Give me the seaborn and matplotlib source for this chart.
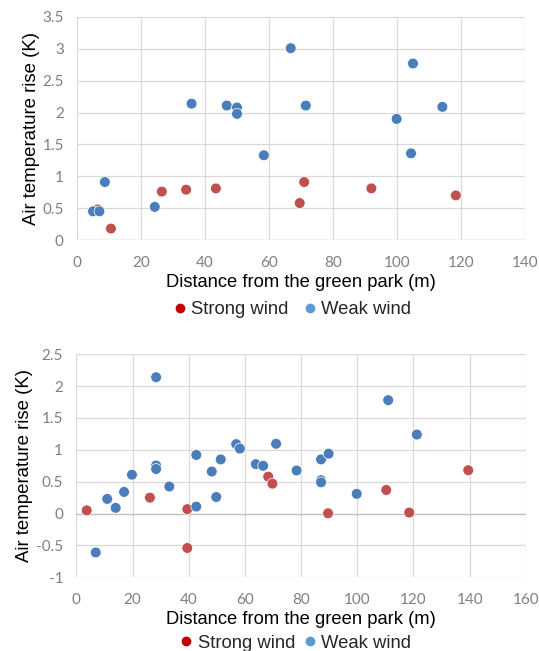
import numpy as np
import pandas as pd
import matplotlib
matplotlib.use("Agg")
import matplotlib.pyplot as plt
from matplotlib.lines import Line2D
import seaborn as sns

# ---- Data: top panel ----
top_strong_x = [6.5, 10.6, 26.5, 34.1, 43.4, 69.6, 71.0, 92.0, 118.4]
top_strong_y = [0.48, 0.18, 0.76, 0.79, 0.81, 0.58, 0.91, 0.81, 0.70]
top_weak_x = [5.0, 7.0, 8.7, 24.3, 35.8, 46.8, 50.0, 50.0, 58.4, 66.8, 71.5, 99.9, 105.0, 104.4, 114.2]
top_weak_y = [0.45, 0.45, 0.91, 0.52, 2.14, 2.11, 2.08, 1.98, 1.33, 3.01, 2.11, 1.90, 2.77, 1.36, 2.09]

# ---- Data: bottom panel ----
bot_strong_x = [3.7, 26.2, 39.5, 39.5, 68.3, 69.8, 89.6, 110.3, 118.5, 139.5]
bot_strong_y = [0.05, 0.25, 0.07, -0.54, 0.58, 0.47, 0.005, 0.37, 0.016, 0.68]
bot_weak_x = [6.9, 11.0, 14.0, 17.0, 19.8, 28.4, 28.4, 28.4, 33.1, 42.7, 42.7, 48.2, 49.8, 51.4,
              56.9, 58.2, 63.9, 66.5, 71.1, 78.4, 87.1, 89.8, 87.1, 87.1, 99.8, 111.0, 121.2]
bot_weak_y = [-0.61, 0.23, 0.09, 0.34, 0.61, 2.14, 0.755, 0.70, 0.425, 0.11, 0.92, 0.66, 0.26, 0.85,
              1.09, 1.02, 0.776, 0.75, 1.095, 0.676, 0.85, 0.94, 0.524, 0.49, 0.31, 1.78, 1.24]

series_names = ["Strong wind", "Weak wind"]
point_colors = {"Strong wind": "#C0504D", "Weak wind": "#4A7EBB"}
legend_colors = {"Strong wind": "#C00000", "Weak wind": "#5B9BD5"}

def make_df(sx, sy, wx, wy):
    return pd.DataFrame({
        "x": list(sx) + list(wx),
        "y": list(sy) + list(wy),
        "series": [series_names[0]] * len(sx) + [series_names[1]] * len(wx),
    })

df_top = make_df(top_strong_x, top_strong_y, top_weak_x, top_weak_y)
df_bot = make_df(bot_strong_x, bot_strong_y, bot_weak_x, bot_weak_y)

sns.set_style("white")
plt.rcParams["font.family"] = ["Liberation Sans", "DejaVu Sans"]

fig = plt.figure(figsize=(5.39, 6.51), dpi=100)
ax1 = fig.add_axes([0.1429, 0.6313, 0.831, 0.3426])
ax2 = fig.add_axes([0.1416, 0.1132, 0.834, 0.3426])

tick_color = "#808080"
grid_color = "#D9D9D9"

def style(ax, df, xlim, xticks, ylim, yticks, ylabels, legend_x, legend_y, colspace):
    ax.set_axisbelow(True)
    for v in xticks:
        ax.axvline(v, color=grid_color, lw=0.9, zorder=0)
    for v in yticks:
        ax.axhline(v, color=grid_color, lw=0.9, zorder=0)
    ax.axhline(0, color="#BFBFBF", lw=0.9, zorder=0.5)
    sns.scatterplot(data=df, x="x", y="y", hue="series", hue_order=series_names,
                    palette=point_colors, s=60, edgecolor="white", linewidth=0.5,
                    legend=False, ax=ax, zorder=3)
    ax.set_xlim(*xlim)
    ax.set_ylim(*ylim)
    ax.set_xticks(xticks)
    ax.set_yticks(yticks)
    ax.set_yticklabels(ylabels)
    for s in ax.spines.values():
        s.set_visible(False)
    ax.tick_params(axis="both", length=0, labelsize=11, colors=tick_color)
    ax.tick_params(axis="x", pad=11.5)
    ax.tick_params(axis="y", pad=9.5)
    for lbl in ax.get_xticklabels() + ax.get_yticklabels():
        lbl.set_family(["Lato", "DejaVu Sans"])
    ax.set_xlabel("Distance from the green park (m)", fontsize=13.2, color="black", labelpad=3)
    ax.set_ylabel("Air temperature rise (K)", fontsize=13.4, color="black", labelpad=2)
    handles = [Line2D([], [], marker="o", linestyle="", markersize=6,
                      markerfacecolor=legend_colors[n], markeredgecolor=legend_colors[n], label=n)
               for n in series_names]
    fig.legend(handles=handles, loc="center", bbox_to_anchor=(legend_x, legend_y), ncol=2,
               frameon=False, fontsize=13.3, handletextpad=0.1, columnspacing=colspace,
               handlelength=1.0, borderpad=0)

style(ax1, df_top, (0, 140), list(range(0, 141, 20)), (0, 3.5),
      [0, 0.5, 1, 1.5, 2, 2.5, 3, 3.5], ["0", "0.5", "1", "1.5", "2", "2.5", "3", "3.5"],
      291 / 539, 1 - 310 / 651, 0.65)
style(ax2, df_bot, (0, 160), list(range(0, 161, 20)), (-1, 2.5),
      [-1, -0.5, 0, 0.5, 1, 1.5, 2, 2.5], ["-1", "-0.5", "0", "0.5", "1", "1.5", "2", "2.5"],
      294 / 539, 1 - 643 / 651, 0.3)

fig.savefig("out.png", dpi=100)
